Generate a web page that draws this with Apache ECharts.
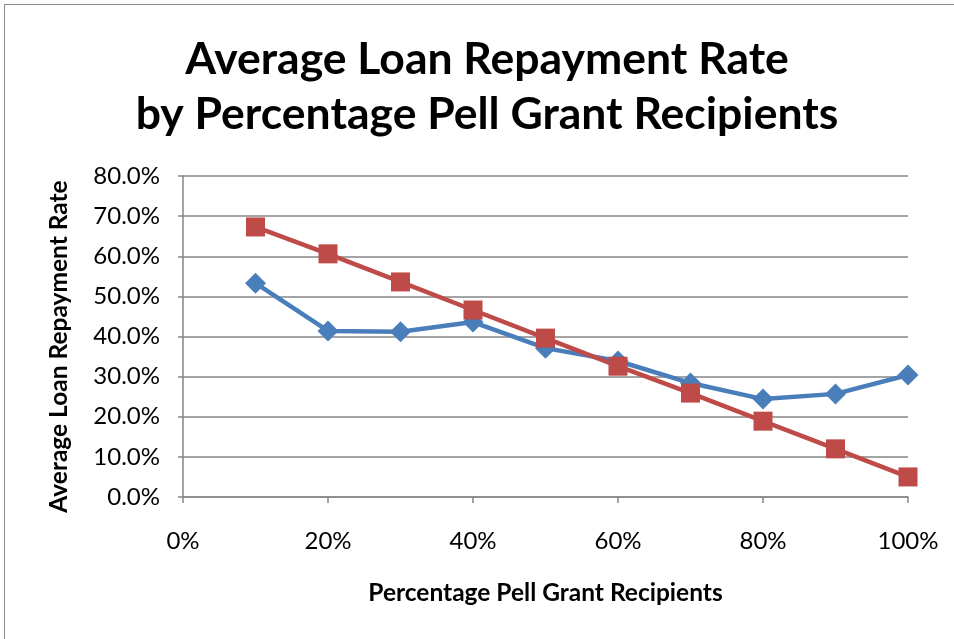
<!DOCTYPE html>
<html>
<head>
<meta charset="utf-8">
<script src="https://cdn.jsdelivr.net/npm/echarts@6/dist/echarts.min.js"></script>
<style>
html,body{margin:0;padding:0;background:#fff;}
#frame{position:absolute;left:4px;top:4px;width:1000px;height:1000px;border-top:1.5px solid #8c8c8c;border-left:1.5px solid #8c8c8c;}
#chart{position:absolute;left:0;top:0;width:954px;height:639px;}
</style>
</head>
<body>
<div id="frame"></div>
<div id="chart"></div>
<script>
const titleText = 'Average Loan Repayment Rate\nby Percentage Pell Grant Recipients';
const xAxisName = 'Percentage Pell Grant Recipients';
const yAxisName = 'Average Loan Repayment Rate';
const pellShare = [0.1, 0.2, 0.3, 0.4, 0.5, 0.6, 0.7, 0.8, 0.9, 1.0];
const actualRate = [0.533, 0.414, 0.412, 0.436, 0.371, 0.339, 0.284, 0.244, 0.257, 0.304];
const trendRate = [0.673, 0.606, 0.536, 0.466, 0.396, 0.326, 0.259, 0.189, 0.120, 0.050];

const font = 'Lato, "Open Sans", sans-serif';
const chart = echarts.init(document.getElementById('chart'), null, {renderer: 'canvas'});
const pairs = (xs, ys) => xs.map((x, i) => [x, ys[i]]);

chart.setOption({
  animation: false,
  backgroundColor: 'transparent',
  title: {
    text: titleText,
    left: 487,
    textAlign: 'center',
    top: 32,
    padding: 0,
    textStyle: {fontFamily: font, fontSize: 44.5, fontWeight: 'bold', color: '#000', lineHeight: 55}
  },
  grid: {left: 183, right: 46, top: 176, bottom: 142, containLabel: false},
  xAxis: {
    type: 'value', min: 0, max: 1, interval: 0.2,
    name: xAxisName, nameLocation: 'middle', nameGap: 84,
    nameTextStyle: {fontFamily: font, fontSize: 24.5, fontWeight: 'bold', color: '#000'},
    axisLine: {show: true, onZero: false, lineStyle: {color: '#868686', width: 1.5}},
    axisTick: {show: true, length: 6, lineStyle: {color: '#868686', width: 1.5}},
    axisLabel: {margin: 32, fontFamily: font, fontSize: 24, color: '#000',
      formatter: v => Math.round(v * 100) + '%'},
    splitLine: {show: false}
  },
  yAxis: {
    type: 'value', min: 0, max: 0.8, interval: 0.1,
    name: yAxisName, nameLocation: 'middle', nameGap: 111, nameRotate: 90,
    nameTextStyle: {fontFamily: font, fontSize: 24.5, fontWeight: 'bold', color: '#000', padding: [0, 20, 0, 0]},
    axisLine: {show: true, lineStyle: {color: '#868686', width: 1.5}},
    axisTick: {show: true, length: 5, lineStyle: {color: '#868686', width: 1.5}},
    axisLabel: {margin: 23, fontFamily: font, fontSize: 24, color: '#000',
      formatter: v => (v * 100).toFixed(1) + '%'},
    splitLine: {show: true, lineStyle: {color: '#868686', width: 1.5}}
  },
  series: [
    {
      type: 'line', data: pairs(pellShare, actualRate),
      symbol: 'diamond', symbolSize: 21,
      lineStyle: {color: '#4a7ebb', width: 4.5},
      itemStyle: {color: '#4a7ebb', borderColor: '#4a7ebb', borderWidth: 0}
    },
    {
      type: 'line', data: pairs(pellShare, trendRate),
      symbol: 'rect', symbolSize: 19,
      lineStyle: {color: '#be4b48', width: 4.5},
      itemStyle: {color: '#be4b48', borderColor: '#be4b48', borderWidth: 0}
    }
  ]
});
</script>
</body>
</html>
